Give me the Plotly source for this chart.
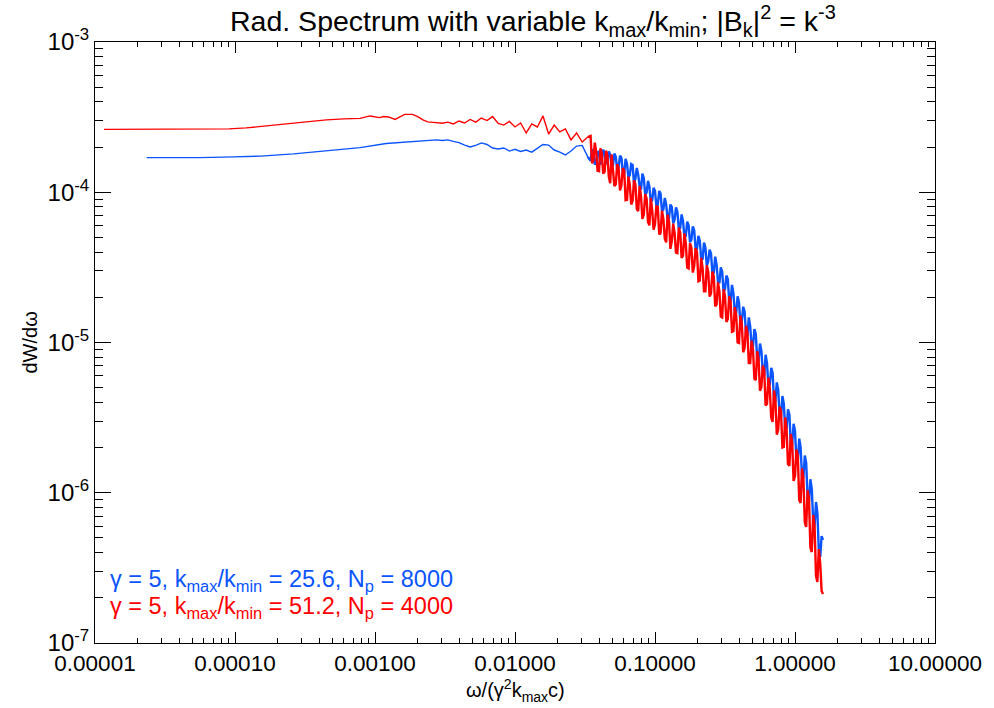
import plotly.graph_objects as go

# ---------------- data ----------------
# smooth low-frequency part, red series (kmax/kmin = 51.2)
red_x_head = [1.16e-5, 2.0e-5, 4.0e-5, 7.0e-5, 9.06e-5, 1.2e-4, 1.53e-4, 2.0e-4, 2.62e-4, 3.4e-4,
              4.49e-4, 6.0e-4, 7.83e-4, 9.2e-4, 1.0e-3, 1.08e-3, 1.15e-3, 1.25e-3, 1.39e-3, 1.5e-3,
              1.63e-3, 1.85e-3, 2.02e-3, 2.2e-3, 2.38e-3, 2.6e-3]
red_y_head = [2.62e-4, 2.62e-4, 2.62e-4, 2.62e-4, 2.64e-4, 2.68e-4, 2.74e-4, 2.81e-4, 2.90e-4, 2.96e-4,
              3.03e-4, 3.08e-4, 3.10e-4, 3.22e-4, 3.17e-4, 3.14e-4, 3.19e-4, 3.17e-4, 3.05e-4, 3.17e-4,
              3.30e-4, 3.30e-4, 3.19e-4, 3.03e-4, 2.94e-4, 2.92e-4]

# smooth low-frequency part, blue series (kmax/kmin = 25.6)
blue_x_head = [2.34e-5, 5.56e-5, 9.84e-5, 1.53e-4, 2.62e-4, 4.49e-4, 7.83e-4, 1.20e-3, 1.46e-3, 1.86e-3, 2.30e-3]
blue_y_head = [1.70e-4, 1.70e-4, 1.72e-4, 1.74e-4, 1.80e-4, 1.88e-4, 1.98e-4, 2.11e-4, 2.14e-4, 2.18e-4, 2.20e-4]

# noisy high-frequency part: sampled frequencies shared by both series
omega_tail = [
    2.754e-3, 3.020e-3, 3.311e-3, 3.631e-3, 3.981e-3, 4.365e-3, 4.786e-3, 5.248e-3, 5.754e-3, 6.310e-3,
    6.918e-3, 7.586e-3, 8.318e-3, 9.120e-3, 1.000e-2, 1.096e-2, 1.202e-2, 1.318e-2, 1.445e-2, 1.585e-2,
    1.738e-2, 1.905e-2, 2.089e-2, 2.291e-2, 2.512e-2, 2.754e-2, 3.020e-2, 3.311e-2,
    3.467e-2, 3.631e-2, 3.802e-2, 3.981e-2, 4.169e-2, 4.365e-2, 4.571e-2, 4.786e-2, 5.012e-2, 5.248e-2,
    5.495e-2, 5.754e-2, 6.026e-2, 6.310e-2, 6.607e-2, 6.918e-2, 7.244e-2, 7.586e-2, 7.943e-2, 8.318e-2,
    8.710e-2, 9.120e-2, 9.550e-2, 0.1000, 0.1047, 0.1096, 0.1148, 0.1202, 0.1259, 0.1318,
    0.1380, 0.1445, 0.1514, 0.1585, 0.1660, 0.1738, 0.1820, 0.1905, 0.1995, 0.2089,
    0.2188, 0.2291, 0.2399, 0.2512, 0.2630, 0.2754, 0.2884, 0.3020, 0.3162, 0.3311,
    0.3467, 0.3631, 0.3802, 0.3981, 0.4169, 0.4365, 0.4571, 0.4786, 0.5012, 0.5248,
    0.5495, 0.5754, 0.6026, 0.6310, 0.6607, 0.6918, 0.7244, 0.7586, 0.7943, 0.8318,
    0.8710, 0.9120, 0.9550, 1.000, 1.047, 1.096, 1.148, 1.202, 1.259, 1.318,
    1.380, 1.445, 1.514, 1.585]

red_y_tail = [
    2.91e-4, 2.88e-4, 2.93e-4, 2.85e-4, 2.98e-4, 2.89e-4, 3.05e-4, 2.93e-4, 3.12e-4, 3.00e-4,
    3.19e-4, 2.87e-4, 2.80e-4, 2.96e-4, 2.72e-4, 2.89e-4, 2.48e-4, 2.85e-4, 2.72e-4, 3.22e-4,
    2.44e-4, 2.80e-4, 2.52e-4, 2.64e-4, 2.23e-4, 2.48e-4, 2.16e-4, 2.33e-4,
    2.37e-4, 1.63e-4, 1.86e-4, 1.38e-4, 1.82e-4, 1.37e-4, 1.77e-4, 1.15e-4, 1.46e-4, 1.13e-4,
    1.45e-4, 1.11e-4, 1.39e-4, 8.89e-5, 1.12e-4, 8.75e-5, 1.13e-4, 7.47e-5, 9.38e-5, 7.11e-5,
    9.09e-5, 6.02e-5, 7.59e-5, 6.15e-5, 7.98e-5, 5.36e-5, 6.62e-5, 4.64e-5, 6.41e-5, 4.72e-5,
    5.36e-5, 3.94e-5, 5.41e-5, 3.79e-5, 4.59e-5, 3.11e-5, 4.27e-5, 3.22e-5, 4.00e-5, 2.59e-5,
    3.13e-5, 2.19e-5, 2.97e-5, 2.12e-5, 2.75e-5, 1.79e-5, 2.19e-5, 1.47e-5, 2.04e-5, 1.43e-5,
    1.87e-5, 1.19e-5, 1.51e-5, 9.92e-6, 1.34e-5, 9.19e-6, 1.17e-5, 7.30e-6, 8.98e-6, 5.63e-6,
    7.70e-6, 5.06e-6, 6.56e-6, 3.90e-6, 4.90e-6, 2.96e-6, 4.14e-6, 2.62e-6, 3.50e-6, 2.02e-6,
    2.62e-6, 1.51e-6, 2.14e-6, 1.29e-6, 1.78e-6, 8.55e-7, 1.25e-6, 5.92e-7, 9.09e-7, 4.03e-7,
    6.01e-7, 2.55e-7, 3.36e-7, 2.12e-7]

blue_y_tail = [
    2.23e-4, 2.21e-4, 2.23e-4, 2.18e-4, 2.14e-4, 2.06e-4, 2.00e-4, 2.05e-4, 2.13e-4, 2.08e-4,
    1.97e-4, 1.94e-4, 1.97e-4, 1.88e-4, 1.93e-4, 1.87e-4, 1.91e-4, 1.85e-4, 1.97e-4, 2.08e-4,
    2.06e-4, 1.91e-4, 1.85e-4, 1.77e-4, 1.88e-4, 2.03e-4, 2.05e-4, 1.72e-4,
    1.62e-4, 1.81e-4, 1.57e-4, 1.82e-4, 1.63e-4, 1.83e-4, 1.63e-4, 1.78e-4, 1.51e-4, 1.72e-4,
    1.48e-4, 1.70e-4, 1.33e-4, 1.55e-4, 1.30e-4, 1.52e-4, 1.23e-4, 1.31e-4, 1.04e-4, 1.24e-4,
    9.96e-5, 1.09e-4, 8.85e-5, 1.02e-4, 8.25e-5, 9.80e-5, 7.68e-5, 8.31e-5, 6.73e-5, 7.99e-5,
    6.57e-5, 7.41e-5, 5.80e-5, 6.45e-5, 5.12e-5, 6.02e-5, 4.83e-5, 5.59e-5, 4.20e-5, 4.76e-5,
    3.61e-5, 4.28e-5, 3.46e-5, 3.91e-5, 2.92e-5, 3.30e-5, 2.48e-5, 2.96e-5, 2.26e-5, 2.65e-5,
    1.89e-5, 2.12e-5, 1.56e-5, 1.85e-5, 1.39e-5, 1.61e-5, 1.10e-5, 1.28e-5, 9.45e-6, 1.14e-5,
    7.64e-6, 8.78e-6, 6.02e-6, 7.30e-6, 5.25e-6, 6.27e-6, 4.09e-6, 4.83e-6, 3.18e-6, 3.92e-6,
    2.70e-6, 3.31e-6, 2.10e-6, 2.58e-6, 1.62e-6, 2.02e-6, 1.26e-6, 1.58e-6, 8.68e-7, 1.06e-6,
    6.01e-7, 7.33e-7, 3.74e-7, 4.85e-7]

# extra samples in the steep, densely fluctuating part (between the tail samples above)
omega_mid = [
    3.548e-2, 3.715e-2, 3.890e-2, 4.074e-2, 4.266e-2, 4.467e-2, 4.677e-2, 4.898e-2, 5.129e-2, 5.370e-2,
    5.623e-2, 5.888e-2, 6.166e-2, 6.457e-2, 6.761e-2, 7.079e-2, 7.413e-2, 7.762e-2, 8.128e-2, 8.511e-2,
    8.913e-2, 9.333e-2, 9.772e-2, 0.1023, 0.1072, 0.1122, 0.1175, 0.1230, 0.1288, 0.1349,
    0.1413, 0.1479, 0.1549, 0.1622, 0.1698, 0.1778, 0.1862, 0.1950, 0.2042, 0.2138,
    0.2239, 0.2344, 0.2455, 0.2570, 0.2692, 0.2818, 0.2951, 0.3090, 0.3236, 0.3388,
    0.3548, 0.3715, 0.3890, 0.4074, 0.4266, 0.4467, 0.4677, 0.4898, 0.5129, 0.5370,
    0.5623, 0.5888, 0.6166, 0.6457, 0.6761, 0.7079, 0.7413, 0.7762, 0.8128, 0.8511,
    0.8913, 0.9333, 0.9772, 1.023, 1.072, 1.122, 1.175, 1.230, 1.288, 1.349,
    1.413, 1.479, 1.549]

red_y_mid = [
    1.56e-4, 2.14e-4, 1.39e-4, 1.96e-4, 1.33e-4, 1.89e-4, 1.27e-4, 1.79e-4, 1.10e-4, 1.54e-4,
    1.03e-4, 1.45e-4, 8.84e-5, 1.27e-4, 8.29e-5, 1.20e-4, 7.76e-5, 1.10e-4, 6.64e-5, 9.73e-5,
    6.34e-5, 9.19e-5, 5.64e-5, 8.04e-5, 5.23e-5, 7.55e-5, 4.90e-5, 7.08e-5, 4.20e-5, 6.18e-5,
    3.97e-5, 5.81e-5, 3.65e-5, 5.33e-5, 3.15e-5, 4.59e-5, 2.92e-5, 4.25e-5, 2.56e-5, 3.66e-5,
    2.19e-5, 3.26e-5, 2.02e-5, 2.97e-5, 1.74e-5, 2.51e-5, 1.49e-5, 2.26e-5, 1.37e-5, 2.03e-5,
    1.18e-5, 1.72e-5, 1.00e-5, 1.51e-5, 8.61e-6, 1.29e-5, 7.30e-6, 1.03e-5, 5.74e-6, 8.74e-6,
    4.77e-6, 7.03e-6, 3.81e-6, 5.85e-6, 3.17e-6, 4.79e-6, 2.44e-6, 3.75e-6, 2.00e-6, 3.17e-6,
    1.55e-6, 2.46e-6, 1.20e-6, 1.94e-6, 8.95e-7, 1.45e-6, 6.34e-7, 1.04e-6, 4.32e-7, 7.11e-7,
    2.79e-7, 4.22e-7, 2.22e-7]

blue_y_mid = [
    1.94e-4, 1.53e-4, 1.88e-4, 1.53e-4, 1.92e-4, 1.54e-4, 1.87e-4, 1.47e-4, 1.81e-4, 1.41e-4,
    1.75e-4, 1.35e-4, 1.67e-4, 1.25e-4, 1.54e-4, 1.15e-4, 1.45e-4, 1.10e-4, 1.33e-4, 9.60e-5,
    1.19e-4, 8.64e-5, 1.07e-4, 8.05e-5, 1.02e-4, 7.49e-5, 9.17e-5, 6.67e-5, 8.29e-5, 6.21e-5,
    7.94e-5, 5.75e-5, 7.12e-5, 5.08e-5, 6.37e-5, 4.66e-5, 5.92e-5, 4.19e-5, 5.13e-5, 3.61e-5,
    4.62e-5, 3.24e-5, 4.15e-5, 2.92e-5, 3.73e-5, 2.53e-5, 3.16e-5, 2.17e-5, 2.79e-5, 1.90e-5,
    2.42e-5, 1.60e-5, 2.03e-5, 1.33e-5, 1.73e-5, 1.15e-5, 1.47e-5, 9.43e-6, 1.23e-5, 7.69e-6,
    9.85e-6, 6.24e-6, 8.28e-6, 5.11e-6, 6.79e-6, 4.12e-6, 5.43e-6, 3.26e-6, 4.40e-6, 2.64e-6,
    3.59e-6, 2.11e-6, 2.88e-6, 1.67e-6, 2.29e-6, 1.29e-6, 1.77e-6, 9.24e-7, 1.23e-6, 6.44e-7,
    8.68e-7, 4.16e-7, 5.15e-7]

x_tick_vals = [1e-5, 1e-4, 1e-3, 1e-2, 1e-1, 1e0, 1e1]
x_tick_text = ["0.00001", "0.00010", "0.00100", "0.01000", "0.10000", "1.00000", "10.00000"]
y_tick_vals = [1e-7, 1e-6, 1e-5, 1e-4, 1e-3]
y_tick_text = ["10<sup>-7</sup>", "10<sup>-6</sup>", "10<sup>-5</sup>", "10<sup>-4</sup>", "10<sup>-3</sup>"]

labels = ["γ = 5, k<sub>max</sub>/k<sub>min</sub> = 25.6, N<sub>p</sub> = 8000",
          "γ = 5, k<sub>max</sub>/k<sub>min</sub> = 51.2, N<sub>p</sub> = 4000"]

BLUE = "#0a55ff"
RED = "#ff0000"
FONT = "Liberation Sans, Arial, Helvetica, sans-serif"

x_minor = [m * 10.0 ** e for e in range(-5, 1) for m in range(2, 10)]
y_minor = [m * 10.0 ** e for e in range(-7, -3) for m in range(2, 10)]

SPLIT_X = 3.311e-2  # where the steep, dense decline starts (drawn with a heavier stroke)


def assemble(x_head, y_head, y_tail, y_mid):
    pts = list(zip(x_head, y_head)) + list(zip(omega_tail, y_tail)) + list(zip(omega_mid, y_mid))
    pts.sort(key=lambda p: p[0])
    xs = [p[0] for p in pts]
    ys = [p[1] for p in pts]
    k = xs.index(SPLIT_X)
    return (xs[:k + 1], ys[:k + 1]), (xs[k:], ys[k:])


fig = go.Figure()
for x_head, y_head, y_tail, y_mid, color in [
        (blue_x_head, blue_y_head, blue_y_tail, blue_y_mid, BLUE),
        (red_x_head, red_y_head, red_y_tail, red_y_mid, RED)]:
    (xa, ya), (xb, yb) = assemble(x_head, y_head, y_tail, y_mid)
    fig.add_trace(go.Scatter(x=xa, y=ya, mode="lines", line=dict(color=color, width=1.4),
                             showlegend=False))
    fig.add_trace(go.Scatter(x=xb, y=yb, mode="lines", line=dict(color=color, width=2.4),
                             showlegend=False))

axis_common = dict(type="log", showgrid=False, zeroline=False, showline=True, linecolor="black",
                   linewidth=1, mirror="allticks", ticks="inside", tickcolor="black", tickwidth=1,
                   tickmode="array")

fig.update_xaxes(**axis_common, range=[-5, 1], tickvals=x_tick_vals, ticktext=x_tick_text, ticklen=11,
                 tickfont=dict(family=FONT, size=22.5, color="black"),
                 minor=dict(tickmode="array", tickvals=x_minor, ticks="inside", ticklen=5,
                            tickcolor="black", tickwidth=1, showgrid=False))
fig.update_yaxes(**axis_common, range=[-7, -3], tickvals=y_tick_vals, ticktext=y_tick_text, ticklen=16,
                 tickfont=dict(family=FONT, size=24, color="black"),
                 minor=dict(tickmode="array", tickvals=y_minor, ticks="inside", ticklen=8,
                            tickcolor="black", tickwidth=1, showgrid=False))

annotations = [
    dict(text="Rad. Spectrum with variable k<sub>max</sub>/k<sub>min</sub>; |B<sub>k</sub>|<sup>2</sup> = k<sup>-3</sup>",
         xref="paper", yref="paper", x=0.522, y=1.0, yshift=21, xanchor="center", yanchor="middle",
         showarrow=False, font=dict(family=FONT, size=28.5, color="black")),
    dict(text="ω/(γ<sup>2</sup>k<sub>max</sub>c)", xref="paper", yref="paper", x=0.5, y=0, yshift=-47,
         xanchor="center", yanchor="middle", showarrow=False, font=dict(family=FONT, size=20, color="black")),
    dict(text="dW/dω", xref="paper", yref="paper", x=0, xshift=-66, y=0.5, textangle=-90,
         xanchor="center", yanchor="middle", showarrow=False, font=dict(family=FONT, size=20, color="black")),
    dict(text=labels[0], xref="paper", yref="paper", x=0, xshift=13, y=0, yshift=63,
         xanchor="left", yanchor="middle", showarrow=False, font=dict(family=FONT, size=23.5, color=BLUE)),
    dict(text=labels[1], xref="paper", yref="paper", x=0, xshift=13, y=0, yshift=36,
         xanchor="left", yanchor="middle", showarrow=False, font=dict(family=FONT, size=23.5, color=RED)),
]

fig.update_layout(width=994, height=708, margin=dict(l=95, r=53, t=42, b=65),
                  paper_bgcolor="white", plot_bgcolor="white", annotations=annotations,
                  font=dict(family=FONT, color="black"))

fig.write_html("out.html")
